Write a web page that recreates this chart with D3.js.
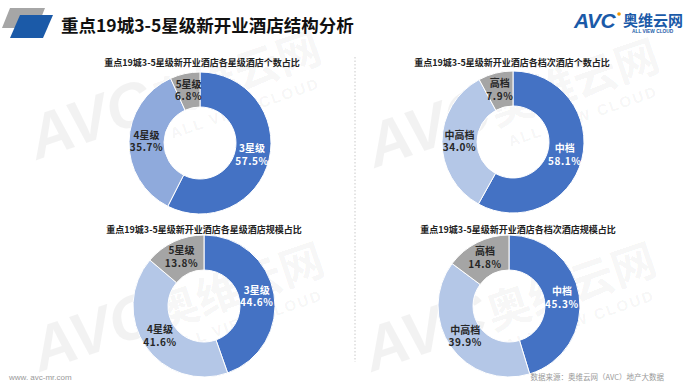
<!DOCTYPE html>
<html>
<head>
<meta charset="utf-8">
<script src="https://cdn.jsdelivr.net/npm/d3@7"></script>
<style>
  body { margin: 0; background: #fff; }
  svg { display: block; font-family: "Noto Sans CJK SC", "Noto Sans", sans-serif; }
</style>
</head>
<body>
<div id="chart"></div>
<script>
// chart data
var chartTitles = [
  "重点19城3-5星级新开业酒店各星级酒店个数占比",
  "重点19城3-5星级新开业酒店各档次酒店个数占比",
  "重点19城3-5星级新开业酒店各星级酒店规模占比",
  "重点19城3-5星级新开业酒店各档次酒店规模占比"
];
var starNames = ["3星级", "4星级", "5星级"];
var gradeNames = ["中档", "中高档", "高档"];
var starCount = [57.5, 35.7, 6.8];
var gradeCount = [58.1, 34.0, 7.9];
var starScale = [44.6, 41.6, 13.8];
var gradeScale = [45.3, 39.9, 14.8];

var width = 700, height = 385;
var svg = d3.select("#chart").append("svg").attr("width", width).attr("height", height);

// watermarks (drawn first, kept faint)
var marks = [[37, 160], [375, 168], [40, 372], [372, 372]];
marks.forEach(function (m) {
  var w = svg.append("g").attr("transform", "translate(" + m[0] + "," + m[1] + ") rotate(-19)")
    .attr("fill", "#000").attr("fill-opacity", 0.05).attr("font-weight", "bold").attr("pointer-events", "none");
  w.append("text").attr("font-size", 62).attr("font-style", "italic").attr("font-family", "Liberation Sans").text("AVC");
  w.append("text").attr("x", 128).attr("font-size", 44).text("奥维云网");
  w.append("text").attr("x", 135).attr("y", 24).attr("font-size", 15).attr("font-family", "Liberation Sans")
    .attr("letter-spacing", 2).text("ALL VIEW CLOUD");
});

// header icon
svg.append("polygon").attr("points", "10,8 45,8 37,28 2,28").attr("fill", "#a6a6a6");
svg.append("polygon").attr("points", "20,15 53,15 43,38 10,38").attr("fill", "#1b5aa8");
svg.append("text").attr("x", 61).attr("y", 32)
  .attr("font-size", 17.5).attr("font-weight", "bold").attr("fill", "#111")
  .text("重点19城3-5星级新开业酒店结构分析");

// logo
var logo = svg.append("g").attr("fill", "#1b5aa8");
logo.append("text").attr("x", 574).attr("y", 28).attr("font-size", 21).attr("font-weight", "bold")
  .attr("font-style", "italic").attr("font-family", "Liberation Sans").attr("letter-spacing", -0.5).text("AVC");
logo.append("circle").attr("cx", 619).attr("cy", 14).attr("r", 1.8).attr("fill", "#f39800");
logo.append("text").attr("x", 623).attr("y", 26).attr("font-size", 15).attr("font-weight", "bold").text("奥维云网");
logo.append("text").attr("x", 632).attr("y", 33).attr("font-size", 4.8).attr("font-weight", "bold")
  .attr("font-family", "Liberation Sans").text("ALL VIEW CLOUD");

// separator
svg.append("line").attr("x1", 355).attr("x2", 355).attr("y1", 57).attr("y2", 362)
  .attr("stroke", "#bbb").attr("stroke-width", 0.8).attr("stroke-dasharray", "1.5,2");

var panels = [
  { cx: 200, cy: 143, names: starNames, values: starCount, colors: ["#4472c4", "#8faadc", "#a5a5a5"] },
  { cx: 513, cy: 142, names: gradeNames, values: gradeCount, colors: ["#4472c4", "#b4c7e7", "#a5a5a5"] },
  { cx: 204, cy: 306, names: starNames, values: starScale, colors: ["#4472c4", "#b4c7e7", "#a5a5a5"] },
  { cx: 509, cy: 306, names: gradeNames, values: gradeScale, colors: ["#4472c4", "#b4c7e7", "#a5a5a5"] }
];
var titlePos = [[202, 66], [512, 66], [204, 233], [518, 233]];

var outerR = 71, innerR = 36;
var pie = d3.pie().sort(null).value(function (d) { return d.value; });
var arc = d3.arc().innerRadius(innerR).outerRadius(outerR);

panels.forEach(function (p, i) {
  svg.append("text").attr("x", titlePos[i][0]).attr("y", titlePos[i][1])
    .attr("text-anchor", "middle").attr("font-size", 9).attr("font-weight", "bold").attr("fill", "#222")
    .text(chartTitles[i]);

  var data = p.names.map(function (n, k) { return { name: n, value: p.values[k] }; });
  var g = svg.append("g").attr("transform", "translate(" + p.cx + "," + p.cy + ")");
  var arcs = pie(data);
  g.selectAll("path").data(arcs).enter().append("path")
    .attr("d", arc)
    .attr("fill", function (d, k) { return p.colors[k]; })
    .attr("stroke", "#fff").attr("stroke-width", 1);

  var lbl = g.selectAll("text.lbl").data(arcs).enter().append("text")
    .attr("class", "lbl")
    .attr("text-anchor", "middle").attr("font-size", 10).attr("font-weight", "bold")
    .attr("fill", function (d, k) { return k === 0 ? "#fff" : "#262626"; })
    .attr("transform", function (d) { var c = arc.centroid(d); return "translate(" + c[0] + "," + c[1] + ")"; });
  lbl.append("tspan").attr("x", 0).attr("dy", "-0.3em").text(function (d) { return d.data.name; });
  lbl.append("tspan").attr("x", 0).attr("dy", "1.25em").attr("letter-spacing", 0.6)
    .text(function (d) { return d.data.value.toFixed(1) + "%"; });
});

// footer
svg.append("text").attr("x", 9).attr("y", 380).attr("font-size", 8).attr("fill", "#999")
  .attr("font-family", "Liberation Sans").text("www. avc-mr.com");
svg.append("text").attr("x", 664).attr("y", 380).attr("text-anchor", "end").attr("font-size", 7.5).attr("fill", "#999")
  .text("数据来源：奥维云网（AVC）地产大数据");
</script>
</body>
</html>
